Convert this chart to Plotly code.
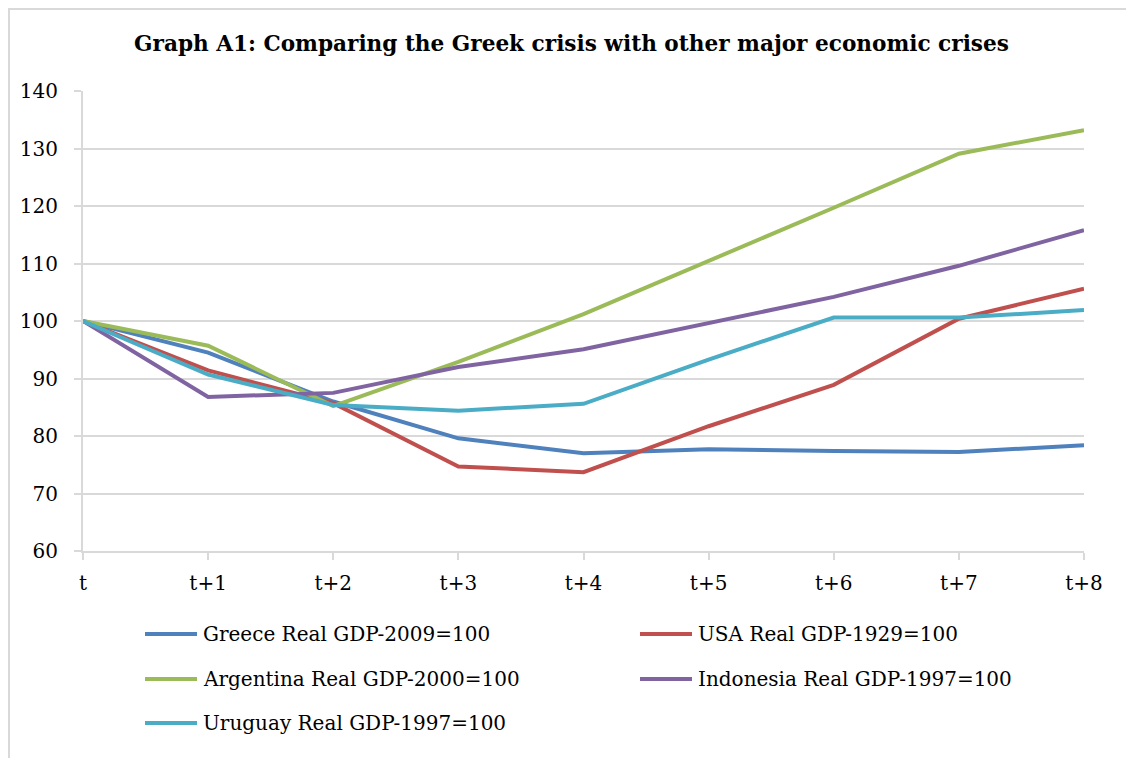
import plotly.graph_objects as go

periods = ["t", "t+1", "t+2", "t+3", "t+4", "t+5", "t+6", "t+7", "t+8"]
greece = [100, 94.5, 86.0, 79.6, 77.0, 77.7, 77.4, 77.2, 78.4]
usa = [100, 91.4, 85.7, 74.7, 73.7, 81.7, 88.9, 100.4, 105.6]
argentina = [100, 95.7, 85.2, 92.9, 101.2, 110.4, 119.7, 129.1, 133.2]
indonesia = [100, 86.8, 87.5, 92.0, 95.1, 99.6, 104.2, 109.6, 115.8]
uruguay = [100, 90.7, 85.4, 84.4, 85.6, 93.3, 100.6, 100.6, 101.9]

names = ["Greece Real GDP-2009=100", "USA Real GDP-1929=100",
         "Argentina Real GDP-2000=100", "Indonesia Real GDP-1997=100",
         "Uruguay Real GDP-1997=100"]
colors = ["#4F81BD", "#C0504D", "#9BBB59", "#8064A2", "#4BACC6"]
series = [greece, usa, argentina, indonesia, uruguay]

OFF = 8  # page body margin offset
WIN_W, WIN_H = 1134, 758
W, H = WIN_W - OFF, WIN_H - OFF
# plot area in window pixel coordinates
L, R, T, B = 83, 1084, 91, 551
FONT = "DejaVu Serif"
GRID = "#d9d9d9"

def px_x(p):
    return (p - L) / (R - L)

def px_y(p):
    return (B - p) / (B - T)

fig = go.Figure()
for name, vals, col in zip(names, series, colors):
    fig.add_trace(go.Scatter(x=periods, y=vals, mode="lines", name=name,
                             line=dict(color=col, width=4), showlegend=False))

shapes = [dict(type="rect", xref="paper", yref="paper",
               x0=px_x(9), x1=px_x(1200), y0=px_y(800), y1=px_y(9),
               line=dict(color=GRID, width=2), layer="below")]
annotations = []
legend_pos = [(145, 634), (640, 634), (145, 679), (640, 679), (145, 723)]
for (lx, ly), name, col in zip(legend_pos, names, colors):
    shapes.append(dict(type="line", xref="paper", yref="paper",
                       x0=px_x(lx), x1=px_x(lx + 52), y0=px_y(ly), y1=px_y(ly),
                       line=dict(color=col, width=4)))
    annotations.append(dict(xref="paper", yref="paper", x=px_x(lx + 56), y=px_y(ly),
                            xanchor="left", yanchor="middle", showarrow=False,
                            text=name, font=dict(family=FONT, size=20, color="#000")))

fig.update_layout(
    width=W, height=H,
    margin=dict(l=L - OFF, r=WIN_W - R, t=T - OFF, b=WIN_H - B),
    paper_bgcolor="white", plot_bgcolor="white",
    title=dict(text="<b>Graph A1: Comparing the Greek crisis with other major economic crises</b>",
               x=(571.5 - OFF) / W, xanchor="center", y=1 - (43 - OFF) / H, yanchor="middle",
               yref="container", xref="container",
               font=dict(family=FONT, size=21.6, color="#000")),
    xaxis=dict(type="category", range=[0, 8], showgrid=False,
               showline=True, linecolor=GRID, linewidth=2,
               ticks="outside", ticklen=7, tickcolor=GRID, tickwidth=2,
               tickfont=dict(family=FONT, size=20, color="#000"),
               ticklabelstandoff=6, zeroline=False),
    yaxis=dict(range=[60, 140], dtick=10, showgrid=True, gridcolor=GRID, gridwidth=2,
               showline=True, linecolor=GRID, linewidth=2,
               ticks="outside", ticklen=7, tickcolor=GRID, tickwidth=2,
               tickfont=dict(family=FONT, size=20, color="#000"),
               ticklabelstandoff=12, zeroline=False),
    shapes=shapes, annotations=annotations,
)
fig.write_html("out.html")
